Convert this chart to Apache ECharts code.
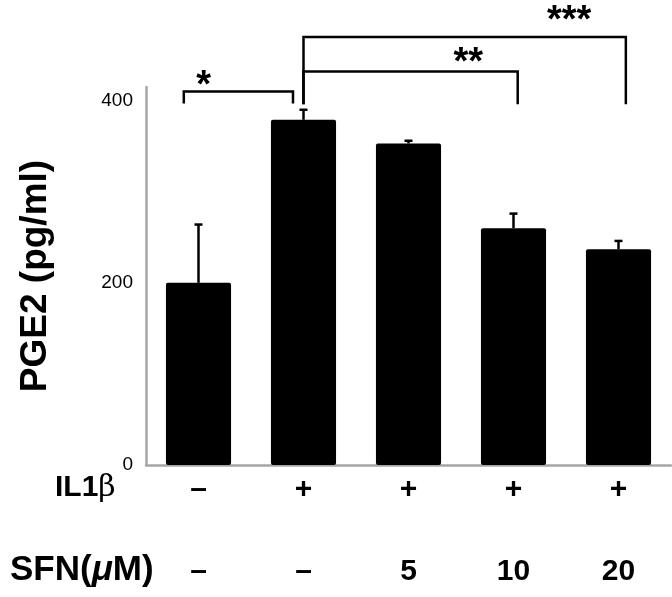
<!DOCTYPE html>
<html>
<head>
<meta charset="utf-8">
<script src="https://cdn.jsdelivr.net/npm/echarts@6/dist/echarts.min.js"></script>
<style>
html,body{margin:0;padding:0;background:#fff;}
#chart{width:672px;height:597px;}
</style>
</head>
<body>
<div id="chart"></div>
<script>
// ---- data ----
const categories = ['g1', 'g2', 'g3', 'g4', 'g5'];
const il1bLabels = ['–', '+', '+', '+', '+'];
const sfnLabels = ['–', '–', '5', '10', '20'];
const pge2 = [200, 379, 353, 260, 237];
const pge2Err = [64, 11, 3, 16, 9];
const yTicks = [0, 200, 400];
// significance brackets (x in category index units, y in pg/ml)
const bracketFrom = [-0.14, 1.0, 1.0];
const bracketTo = [0.9, 3.04, 4.07];
const bracketTop = [410, 432, 470];
const bracketEnd = [397, 396, 396];
const starText = ['*', '**', '***'];
const starX = [0.05, 2.57, 3.53];
const starY = [415, 441, 487];

const FONT = '"Liberation Sans", Arial, Helvetica, sans-serif';
const chart = echarts.init(document.getElementById('chart'));

function xPix(api, x) {
  const r = Math.round(x);
  return api.coord([r, 0])[0] + (x - r) * api.size([1, 0])[0];
}

const option = {
  animation: false,
  backgroundColor: '#ffffff',
  grid: { left: 146, right: 1, top: 87, bottom: 132, containLabel: false },
  xAxis: [{
    type: 'category',
    data: categories,
    axisLine: { show: true, lineStyle: { color: '#a6a6a6', width: 2.5 } },
    axisTick: { show: false },
    axisLabel: {
      margin: 10,
      formatter: (v, i) => il1bLabels[i],
      fontFamily: FONT, fontSize: 30, fontWeight: 'bold', color: '#000'
    }
  }, {
    type: 'category',
    position: 'bottom',
    data: categories,
    axisLine: { show: false },
    axisTick: { show: false },
    axisLabel: {
      margin: 92,
      formatter: (v, i) => sfnLabels[i],
      fontFamily: FONT, fontSize: 30, fontWeight: 'bold', color: '#000'
    }
  }],
  yAxis: {
    type: 'value',
    min: 0, max: 415, interval: 200,
    name: 'PGE2 (pg/ml)',
    nameLocation: 'middle',
    nameGap: 92,
    nameTextStyle: { fontFamily: FONT, fontSize: 37, fontWeight: 'bold', color: '#000' },
    axisLine: { show: true, lineStyle: { color: '#a6a6a6', width: 2.5 } },
    axisTick: { show: false },
    splitLine: { show: false },
    axisLabel: {
      margin: 13, showMaxLabel: false,
      formatter: v => (yTicks.indexOf(v) >= 0 ? String(v) : ''),
      fontFamily: FONT, fontSize: 19, fontWeight: 500, color: '#000'
    }
  },
  graphic: [
    { type: 'text', left: 55, top: 473, style: { text: '{b|IL1}{g|β}', rich: {
      b: { fontFamily: FONT, fontSize: 30, fontWeight: 'bold', fill: '#000' },
      g: { fontFamily: '"DejaVu Serif", serif', fontSize: 30, fill: '#000' } } } },
    { type: 'text', left: 10, top: 553, style: { text: '{b|SFN(}{m|μ}{b|M)}', rich: {
      b: { fontFamily: FONT, fontSize: 35, fontWeight: 'bold', fill: '#000' },
      m: { fontFamily: FONT, fontSize: 35, fontWeight: 'bold', fontStyle: 'italic', fill: '#000' } } } }
  ],
  series: [{
    type: 'bar',
    data: pge2,
    barWidth: '62%',
    itemStyle: { color: '#000', borderRadius: 2 },
    z: 2
  }, {
    type: 'custom',
    z: 3,
    data: pge2.map((v, i) => [i, v, pge2Err[i]]),
    renderItem: (params, api) => {
      const i = api.value(0), v = api.value(1), e = api.value(2);
      const p0 = api.coord([i, v]);
      const p1 = api.coord([i, v + e]);
      return { type: 'group', children: [
        { type: 'line', shape: { x1: p0[0], y1: p0[1], x2: p1[0], y2: p1[1] }, style: { stroke: '#000', lineWidth: 2.5 } },
        { type: 'line', shape: { x1: p1[0] - 4, y1: p1[1], x2: p1[0] + 4, y2: p1[1] }, style: { stroke: '#000', lineWidth: 2.5 } }
      ] };
    }
  }, {
    type: 'custom',
    z: 4,
    clip: false,
    data: bracketFrom.map((_, k) => [k, 0]),
    renderItem: (params, api) => {
      const k = params.dataIndex;
      const x1 = xPix(api, bracketFrom[k]);
      const x2 = xPix(api, bracketTo[k]);
      const yt = api.coord([0, bracketTop[k]])[1];
      const ye = api.coord([0, bracketEnd[k]])[1];
      const sx = xPix(api, starX[k]);
      const sy = api.coord([0, starY[k]])[1];
      return { type: 'group', children: [
        { type: 'polyline', shape: { points: [[x1, ye], [x1, yt], [x2, yt], [x2, ye]] },
          style: { stroke: '#000', lineWidth: 2.5, fill: null } },
        { type: 'text', x: sx, y: sy, style: { text: starText[k], fontFamily: FONT, fontSize: 38,
          fontWeight: 'bold', fill: '#000', align: 'center', verticalAlign: 'middle' } }
      ] };
    }
  }]
};
chart.setOption(option);
</script>
</body>
</html>
